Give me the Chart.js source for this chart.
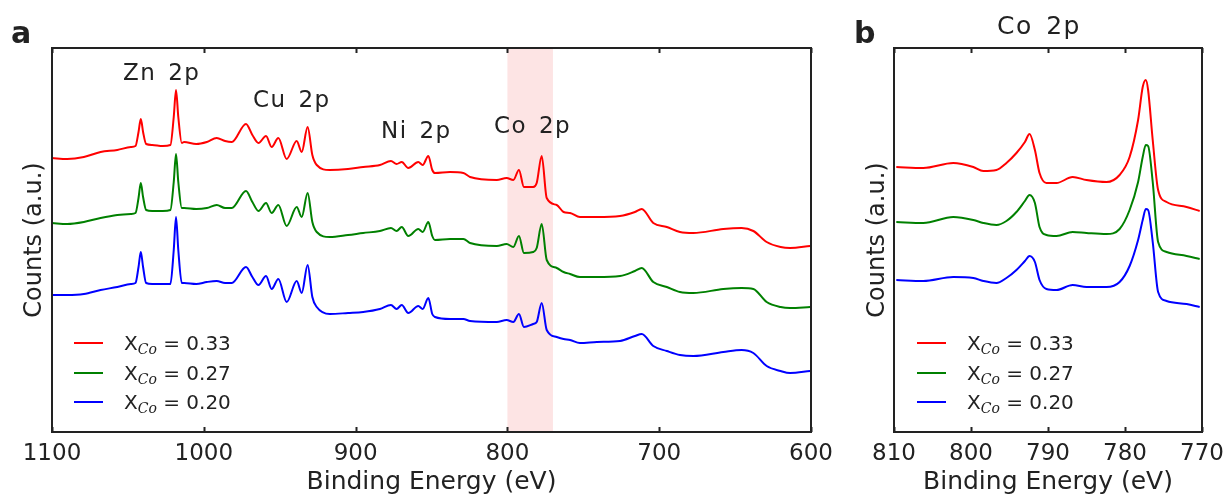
<!DOCTYPE html>
<html>
<head>
<meta charset="utf-8">
<script src="https://cdn.jsdelivr.net/npm/chart.js@4.4.1/dist/chart.umd.min.js"></script>
<style>
  body { margin: 0; background: #fff; font-family: "DejaVu Sans", sans-serif; color: #222; }
  #wrap { position: relative; width: 1227px; height: 494px; overflow: hidden; }
  canvas { position: absolute; top: 0; }
  #cA { left: 0; }
  #cB { left: 835px; }
  .txt { position: absolute; white-space: nowrap; line-height: 1; }
  .peak { font-size: 23px; letter-spacing: 1.5px; word-spacing: 3px; }
  .panel { font-size: 30px; font-weight: bold; }
  .leg { position: absolute; font-size: 20px; line-height: 1; }
  .leg .row { position: relative; height: 29.7px; }
  .leg .ln { position: absolute; left: 0; top: 9px; width: 29px; height: 2px; }
  .leg .lab { position: absolute; left: 50px; top: 0; white-space: nowrap; }
  .leg sub { font-family: "DejaVu Serif", serif; font-style: italic; font-size: 14px; vertical-align: -4px; }
</style>
</head>
<body>
<div id="wrap">
  <canvas id="cA" width="845" height="497"></canvas>
  <canvas id="cB" width="392" height="497"></canvas>

  <div class="txt panel" style="left:11px; top:18px;">a</div>
  <div class="txt panel" style="left:854px; top:18px;">b</div>

  <div class="txt peak" style="left:123px; top:61px;">Zn 2p</div>
  <div class="txt peak" style="left:253px; top:88px;">Cu 2p</div>
  <div class="txt peak" style="left:381px; top:119px;">Ni 2p</div>
  <div class="txt peak" style="left:494px; top:114px;">Co 2p</div>
  <div class="txt peak" style="left:997px; top:13px; font-size:25px; word-spacing:4px;">Co 2p</div>

  <div class="leg" id="legA" style="left:74px; top:333px;"></div>
  <div class="leg" id="legB" style="left:917px; top:333px;"></div>
</div>

<script>
// survey spectrum (panel a), binding energy in eV
const energyA = [1100, 1090, 1079, 1068, 1057, 1048, 1045, 1043, 1041.5, 1040, 1038, 1034, 1027,
  1022, 1019.8, 1018.3, 1016.8, 1014.5, 1013,
  1005, 998, 991.5, 986, 981.6, 972.2, 968, 964, 959, 955.3, 950.9, 945.4, 938.8, 935.5, 931.6, 928.5, 925.6,
  917, 905, 895, 884, 876.7, 873, 869.6, 865.3, 858.7, 855.8, 852.1, 849.5, 847.7, 837.8, 829, 824.6,
  807, 800.5, 796.1, 792.4, 789.1, 783, 780.7, 777.4, 774.1, 767.5, 763, 758.7, 752.2, 741, 725.8,
  716, 711.5, 703.9, 695, 686.3, 677.5, 657.8, 645.7, 638, 629.2, 620, 613.8, 600.6];
const redA = [274, 273, 275, 280, 282, 285, 286, 300, 313, 300, 288, 287, 286,
  287, 315, 342, 315, 289, 290,
  288, 290, 294, 291, 290, 308, 297, 289, 296, 285, 294, 273, 291, 280, 305, 277, 267,
  262, 263, 265, 267, 271, 268, 270, 264, 270, 267, 276, 262, 259, 260, 259, 255,
  252, 254, 252, 262, 245, 245, 249, 276, 234, 227, 220, 219, 215, 215, 216,
  220, 223, 209, 205, 200, 199, 203, 204, 201, 190, 185, 184, 186];
const greenA = [209, 208, 210, 214, 217, 218, 219, 234, 249, 235, 222, 221, 221,
  222, 250, 278, 250, 224, 224,
  223, 224, 227, 224, 224, 241, 230, 221, 229, 219, 227, 206, 225, 215, 239, 210, 200,
  195, 197, 199, 201, 204, 201, 205, 196, 203, 200, 210, 196, 192, 193, 193, 189,
  186, 188, 185, 196, 179, 180, 184, 208, 172, 164, 160, 158, 155, 155, 156,
  161, 164, 150, 145, 140, 139, 143, 144, 143, 130, 125, 124, 125];
const blueA = [137, 137, 138, 142, 145, 148, 149, 165, 180, 165, 149, 148, 148,
  148, 182, 215, 182, 149, 149,
  148, 150, 151, 149, 149, 165, 155, 147, 156, 143, 153, 130, 151, 139, 167, 135, 125,
  118, 119, 120, 123, 127, 123, 127, 119, 126, 123, 134, 118, 115, 113, 113, 111,
  110, 112, 110, 118, 105, 108, 110, 129, 102, 95, 93, 92, 89, 90, 91,
  96, 98, 86, 81, 77, 76, 80, 82, 79, 66, 61, 59, 61];

// Co 2p detail (panel b)
const energyB = [809.7, 806.2, 802.3, 799.7, 798.4, 796.7, 795.4, 794.1, 793, 792.4, 791.7, 791.1, 790.2,
  788.9, 786.8, 785, 782.4, 780.7, 779.4, 778.3, 777.7, 777.3, 777, 776.4, 775.7, 774.6, 772, 770.3];
const redB = [265, 264, 269, 265, 261, 262, 269, 279, 290, 298, 282, 259, 249,
  249, 255, 252, 250, 257, 275, 312, 345, 352, 342, 292, 242, 230, 225, 221];
const greenB = [210, 209, 215, 212, 209, 207, 211, 220, 231, 237, 229, 205, 197,
  196, 200, 199, 198, 203, 222, 250, 275, 287, 286, 250, 190, 180, 176, 173];
const blueB = [152, 151, 155, 154, 151, 149, 154, 162, 171, 176, 170, 152, 143,
  142, 147, 145, 145, 150, 166, 192, 212, 223, 222, 190, 140, 131, 128, 125];

const seriesLabels = ['0.33', '0.27', '0.20'];
const seriesColors = ['#ff0000', '#008000', '#0000ff'];
const ticksA = [1100, 1000, 900, 800, 700, 600];
const ticksB = [810, 800, 790, 780, 770];
const shadeA = [800, 770];

const ink = '#222';

// box around the plot, inward ticks top and bottom, optional shaded band
const framePlugin = {
  id: 'frame',
  beforeDatasetsDraw(chart, args, opts) {
    if (!opts.shade) return;
    const {ctx, chartArea: a, scales: {x}} = chart;
    const x1 = x.getPixelForValue(opts.shade[0]);
    const x2 = x.getPixelForValue(opts.shade[1]);
    ctx.save();
    ctx.fillStyle = 'rgba(245,120,120,0.2)';
    ctx.fillRect(Math.min(x1, x2), a.top, Math.abs(x2 - x1), a.bottom - a.top);
    ctx.restore();
  },
  afterDraw(chart, args, opts) {
    const {ctx, chartArea: a, scales: {x}} = chart;
    ctx.save();
    ctx.strokeStyle = ink;
    ctx.lineWidth = 2;
    ctx.strokeRect(a.left, a.top, a.right - a.left, a.bottom - a.top);
    ctx.beginPath();
    opts.ticks.forEach(v => {
      const px = Math.round(x.getPixelForValue(v)) + 0.5;
      ctx.moveTo(px, a.top); ctx.lineTo(px, a.top + 5);
      ctx.moveTo(px, a.bottom); ctx.lineTo(px, a.bottom - 5);
    });
    ctx.stroke();
    ctx.restore();
  }
};

function makePanel(id, energy, series, lo, hi, ticks, shade, leftW, titlePad, padRight) {
  const datasets = series.map((ys, i) => ({
    label: 'X_Co = ' + seriesLabels[i],
    data: energy.map((e, j) => ({x: e, y: ys[j]})),
    borderColor: seriesColors[i],
    borderWidth: 2,
    pointRadius: 0,
    cubicInterpolationMode: 'monotone',
    fill: false
  }));
  return new Chart(document.getElementById(id), {
    type: 'line',
    data: {datasets},
    options: {
      responsive: false,
      animation: false,
      layout: {padding: {top: 48, right: padRight, left: 0, bottom: 0}},
      plugins: {legend: {display: false}, tooltip: {enabled: false}, frame: {ticks, shade}},
      scales: {
        x: {
          type: 'linear', reverse: true, min: lo, max: hi,
          afterBuildTicks: s => { s.ticks = ticks.map(v => ({value: v})); },
          afterFit: s => { s.height = 65; s.paddingLeft = 0; s.paddingRight = 0; },
          grid: {display: false, drawTicks: false},
          border: {display: false},
          ticks: {color: ink, font: {size: 23, family: 'DejaVu Sans'}, padding: 8, maxRotation: 0, autoSkip: false,
            callback: v => String(v)},
          title: {display: true, text: 'Binding Energy (eV)', color: ink, font: {size: 25, family: 'DejaVu Sans'}, padding: {top: 0, bottom: 0}}
        },
        y: {
          min: 0, max: 384,
          afterFit: s => { s.width = leftW; },
          grid: {display: false, drawTicks: false},
          border: {display: false},
          ticks: {display: false},
          title: {display: true, text: 'Counts (a.u.)', color: ink, font: {size: 24, family: 'DejaVu Sans'}, padding: {top: titlePad, bottom: 0}}
        }
      }
    },
    plugins: [framePlugin]
  });
}

function makeLegend(id) {
  const box = document.getElementById(id);
  seriesLabels.forEach((lab, i) => {
    const row = document.createElement('div');
    row.className = 'row';
    row.innerHTML = '<span class="ln" style="background:' + seriesColors[i] + '"></span>' +
      '<span class="lab">X<sub>Co</sub> = ' + lab + '</span>';
    box.appendChild(row);
  });
}

makePanel('cA', energyA, [redA, greenA, blueA], 600, 1100, ticksA, shadeA, 52, 20, 34);
makePanel('cB', energyB, [redB, greenB, blueB], 770, 810, ticksB, null, 59, 28, 25);
makeLegend('legA');
makeLegend('legB');
</script>
</body>
</html>
